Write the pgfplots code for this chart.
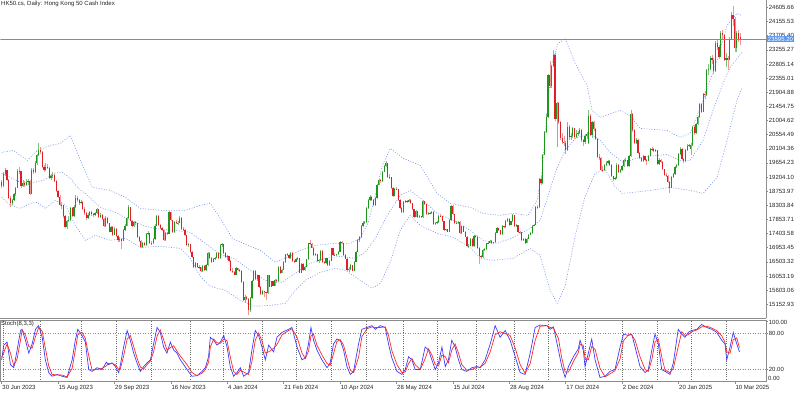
\documentclass[border=0pt]{standalone}
\usepackage{fontspec}
\setmainfont{Liberation Sans}
\usepackage{pgfplots}
\usepackage{pgfplotstable}
\pgfplotsset{compat=1.18}
\definecolor{upbody}{RGB}{30,150,30}
\definecolor{dnbody}{RGB}{225,30,40}
\definecolor{upwick}{RGB}{125,195,125}
\definecolor{dnwick}{RGB}{240,150,150}
\definecolor{bandc}{RGB}{120,150,235}
\definecolor{gridc}{RGB}{110,110,110}
\definecolor{framec}{RGB}{140,140,140}
\definecolor{stk}{RGB}{60,60,255}
\definecolor{std}{RGB}{255,40,40}
\definecolor{pline}{RGB}{150,120,200}
\definecolor{pbox}{RGB}{90,150,240}
\tikzset{mtfont/.style={font=\fontsize{6bp}{7bp}\selectfont}}

\pgfplotstableread{
i o h l c
0 19050 19120 18850 18916
1 18920 19350 18900 19306
2 19306 19480 19250 19415
3 19415 19440 19080 19110
4 19110 19140 18500 18534
5 18534 18600 18250 18366
6 18366 18520 18320 18479
7 18479 18700 18440 18659
8 18659 18900 18600 18860
9 18860 19450 18850 19413
10 19413 19520 19300 19390
11 19390 19400 18850 18908
12 18908 19100 18880 19015
13 19015 19080 18900 18952
14 18952 19150 18920 19051
15 19051 19130 18950 19075
16 19075 19100 18620 18668
17 18668 19480 18650 19434
18 19434 19500 19300 19365
19 19365 19700 19330 19639
20 19639 19950 19600 19917
21 19917 20300 19880 20079
22 20079 20150 19950 20011
23 20011 20020 19480 19517
24 19517 19580 19350 19421
25 19421 19650 19400 19539
26 19539 19620 19450 19500
27 19500 19520 19150 19184
28 19184 19300 19120 19246
29 19246 19350 19180 19270
30 19270 19290 19050 19075
31 19075 19100 18730 18773
32 18773 18800 18530 18581
33 18581 18620 18290 18330
34 18330 18420 18200 18300
35 18300 18330 17900 17950
36 17950 18000 17580 17620
37 17620 17850 17560 17790
38 17790 17950 17760 17850
39 17850 18260 17820 18210
40 18210 18250 17920 17960
41 17960 18300 17930 18250
42 18250 18620 18230 18550
43 18550 18600 18420 18480
44 18480 18520 18330 18380
45 18380 18480 18350 18420
46 18420 18440 18150 18200
47 18200 18260 18000 18050
48 18050 18080 17850 17900
49 17900 18050 17870 18000
50 18000 18130 17960 18090
51 18090 18110 17980 18020
52 18020 18060 17930 17990
53 17990 18100 17960 18050
54 18050 18220 18020 18180
55 18180 18200 17900 17930
56 17930 18050 17910 17990
57 17990 18020 17850 17880
58 17880 17900 17620 17650
59 17650 17950 17630 17900
60 17900 17920 17700 17730
61 17730 17750 17440 17470
62 17470 17660 17440 17610
63 17610 17640 17340 17370
64 17370 17600 17350 17550
65 17550 17570 17300 17330
66 17330 17360 17150 17200
67 17200 17280 17150 17240
68 17240 17260 16900 17180
69 17180 17550 17160 17520
70 17520 17700 17480 17660
71 17660 17920 17640 17890
72 17890 18300 17870 18240
73 18240 18260 17790 17810
74 17810 17850 17600 17640
75 17640 17800 17620 17770
76 17770 17800 17680 17730
77 17730 17750 17270 17300
78 17300 17330 17130 17170
79 17170 17200 16950 16990
80 16990 17130 16960 17090
81 17090 17150 17000 17040
82 17040 17420 17020 17400
83 17380 17480 17350 17410
84 17410 17430 17080 17110
85 17110 17180 17050 17100
86 17100 17260 17080 17230
87 17230 17700 17210 17660
88 17660 18000 17640 17970
89 17970 17990 17640 17670
90 17670 17700 17540 17570
91 17570 17600 17480 17510
92 17510 17530 17180 17200
93 17200 17460 17180 17430
94 17430 17470 17360 17400
95 17400 18120 17380 18080
96 18080 18100 17800 17830
97 17830 17850 17420 17450
98 17450 17800 17430 17780
99 17780 17830 17700 17730
100 17730 17790 17690 17750
101 17750 17950 17730 17910
102 17910 17930 17530 17560
103 17560 17600 17490 17520
104 17520 17540 17320 17350
105 17350 17370 17010 17040
106 17040 17100 16980 17060
107 17060 17080 16800 16830
108 16830 16850 16620 16650
109 16650 16670 16300 16330
110 16330 16490 16310 16460
111 16460 16480 16320 16350
112 16350 16400 16280 16330
113 16330 16350 16170 16200
114 16200 16400 16180 16370
115 16370 16390 16200 16230
116 16230 16430 16210 16400
117 16400 16820 16380 16790
118 16790 16810 16600 16630
119 16630 16660 16480 16510
120 16510 16640 16490 16610
121 16610 16660 16560 16640
122 16640 16820 16620 16790
123 16790 16810 16600 16620
124 16620 17070 16600 17040
125 17040 17110 16980 17060
126 17060 17080 16760 16790
127 16790 16810 16620 16650
128 16650 16720 16570 16680
129 16680 16700 16510 16540
130 16540 16560 16200 16220
131 16220 16300 16160 16190
132 16190 16220 16070 16100
133 16100 16330 16080 16300
134 16300 16320 16210 16240
135 16240 16280 16190 16220
136 16220 16240 15840 15870
137 15870 15890 15250 15280
138 15280 15450 15200 15390
139 15390 15420 15280 15310
140 15310 15340 14800 14960
141 14960 15390 14920 15350
142 15350 15930 15330 15900
143 15900 16260 15880 16210
144 16210 16230 15920 15950
145 15950 16100 15900 16080
146 16080 16100 15680 15700
147 15700 15720 15460 15490
148 15490 15600 15440 15570
149 15570 15590 15400 15530
150 15530 15560 15280 15510
151 15510 16100 15490 16080
152 16080 16100 15690 15710
153 15710 15910 15690 15880
154 15880 15900 15720 15750
155 15750 15970 15730 15940
156 15940 15960 15850 15880
157 15880 16360 15860 16340
158 16340 16360 16130 16160
159 16160 16280 16140 16250
160 16250 16530 16230 16500
161 16500 16770 16480 16740
162 16740 16800 16700 16730
163 16730 16750 16600 16630
164 16630 16820 16610 16790
165 16790 16810 16510 16540
166 16540 16560 16460 16510
167 16510 16620 16490 16590
168 16590 16650 16560 16620
169 16620 16640 16140 16160
170 16160 16460 16140 16440
171 16440 16460 16200 16230
172 16230 16380 16210 16350
173 16350 16610 16330 16590
174 16590 17120 16570 17090
175 17110 17200 17050 17080
176 17080 17100 16940 16960
177 16960 16980 16700 16720
178 16720 16780 16690 16740
179 16740 16760 16510 16530
180 16530 16580 16480 16550
181 16550 16890 16530 16860
182 16860 16880 16480 16500
183 16500 16520 16440 16470
184 16470 16640 16450 16620
185 16620 16640 16370 16390
186 16390 16560 16370 16540
187 16540 16960 16520 16930
188 16930 16950 16700 16730
189 16730 16780 16690 16710
190 16710 16760 16680 16740
191 16740 16850 16720 16830
192 16830 17170 16810 17140
193 17140 17180 17060 17100
194 17100 17120 16700 16720
195 16720 16750 16580 16600
196 16600 16620 16210 16250
197 16250 16330 16180 16280
198 16280 16420 16260 16390
199 16390 16410 16200 16220
200 16220 16540 16200 16510
201 16510 16850 16490 16830
202 16830 17230 16810 17200
203 17200 17320 17150 17280
204 17280 17680 17260 17650
205 17650 17790 17620 17750
206 17740 17820 17700 17760
207 17760 18240 17740 18210
208 18210 18500 18190 18480
209 18480 18620 18450 18580
210 18580 18600 18450 18480
211 18480 18500 18280 18310
212 18310 18560 18290 18540
213 18540 18990 18520 18960
214 18960 19150 18940 19120
215 19120 19140 19000 19070
216 19070 19400 19050 19380
217 19380 19580 19360 19550
218 19550 19720 19530 19640
219 19640 19660 19190 19220
220 19220 19300 19150 19200
221 19200 19220 18840 18870
222 18870 18900 18580 18610
223 18610 18860 18590 18830
224 18840 18900 18790 18820
225 18820 18840 18450 18480
226 18480 18500 18200 18230
227 18230 18260 18050 18080
228 18080 18430 18060 18400
229 18400 18470 18380 18440
230 18440 18480 18380 18420
231 18420 18510 18400 18480
232 18480 18500 18340 18370
233 18370 18390 18150 18180
234 18180 18200 17910 17940
235 17940 18140 17920 18110
236 18110 18130 17910 17940
237 17940 17990 17900 17960
238 17960 17980 17890 17920
239 17920 18460 17900 18430
240 18430 18450 18310 18340
241 18340 18360 18000 18030
242 18030 18080 17990 18050
243 18050 18100 18020 18070
244 18070 18120 18040 18090
245 18090 18110 17690 17720
246 17720 17780 17680 17740
247 17740 17800 17700 17770
248 17770 18010 17750 17980
249 17980 18020 17940 17960
250 17960 17980 17770 17800
251 17800 17820 17500 17520
252 17520 17560 17480 17540
253 17540 17560 17440 17470
254 17470 17860 17450 17830
255 17830 18320 17810 18290
256 18290 18310 17990 18020
257 18020 18040 17700 17730
258 17730 17790 17700 17750
259 17750 17820 17720 17780
260 17780 17800 17390 17420
261 17420 17660 17400 17640
262 17640 17660 17440 17470
263 17470 17490 17280 17310
264 17310 17330 16980 17000
265 17000 17060 16960 17020
266 17020 17270 17000 17240
267 17240 17260 16980 17000
268 17000 17370 16980 17340
269 17340 17360 17270 17300
270 17300 17320 16920 16950
271 16950 16970 16450 16700
272 16700 16720 16600 16650
273 16650 16900 16630 16880
274 16880 16950 16850 16900
275 16900 17120 16880 17090
276 17090 17140 17070 17110
277 17110 17200 17090 17170
278 17170 17190 17080 17110
279 17110 17150 17060 17130
280 17130 17460 17110 17430
281 17430 17600 17410 17570
282 17570 17590 17480 17510
283 17510 17530 17360 17390
284 17390 17670 17370 17640
285 17640 17660 17580 17610
286 17610 17830 17590 17800
287 17800 17900 17780 17870
288 17870 17890 17660 17690
289 17690 17810 17670 17790
290 17790 18020 17770 17990
291 17990 18000 17620 17650
292 17650 17700 17600 17670
293 17670 17690 17430 17460
294 17460 17480 17400 17440
295 17440 17460 17170 17200
296 17200 17260 17180 17230
297 17230 17250 17080 17110
298 17110 17270 17090 17240
299 17240 17390 17220 17370
300 17370 17450 17350 17420
301 17420 17690 17400 17660
302 17660 17720 17640 17690
303 17690 18290 17670 18260
304 18260 18300 18200 18250
305 18250 19160 18230 19130
306 19130 19250 18950 19000
307 19000 19950 18980 19920
308 19920 20660 19900 20630
309 20630 21200 20600 21130
310 21130 22500 21100 22440
311 22440 22900 22050 22110
312 22110 22780 22050 22740
313 22740 23240 22700 23100
314 23100 23150 21000 21050
315 21050 21600 20150 21550
316 21550 21600 20900 20950
317 20950 21000 20400 20450
318 20450 20600 20250 20320
319 20320 20500 20200 20290
320 20290 20350 19950 20080
321 20080 20950 20050 20800
322 20800 20850 20400 20480
323 20480 20600 20380 20500
324 20500 20800 20450 20760
325 20760 20780 20420 20490
326 20490 20700 20450 20590
327 20590 20680 20500 20620
328 20620 20780 20590 20700
329 20700 20720 20320 20380
330 20380 20420 20200 20320
331 20320 20560 20250 20510
332 20510 20640 20420 20570
333 20300 21350 20250 21150
334 21150 21200 20500 20540
335 20540 21000 20450 20950
336 20950 21000 20680 20730
337 20730 20760 20380 20430
338 20430 20450 19800 19850
339 19850 19950 19760 19820
340 19820 19850 19400 19440
341 19440 19560 19350 19430
342 19430 19620 19400 19580
343 19580 19700 19550 19660
344 19660 19760 19620 19710
345 19710 19740 19560 19600
346 19600 19620 19200 19230
347 19230 19250 19080 19150
348 19150 19200 19100 19170
349 19170 19650 19150 19600
350 19600 19620 19340 19370
351 19370 19460 19340 19420
352 19420 19580 19400 19550
353 19550 19780 19530 19750
354 19760 19800 19700 19740
355 19740 19760 19520 19560
356 19560 19900 19540 19870
357 19870 21350 19850 21200
358 21200 21250 20650 20700
359 20700 20720 20250 20300
360 20300 20450 20250 20400
361 20400 20420 19940 19970
362 19970 20000 19770 19800
363 19800 19830 19670 19700
364 19700 19900 19680 19870
365 19870 19890 19720 19750
366 19750 19780 19600 19720
367 19720 19910 19700 19880
368 19880 20130 19860 20100
369 20110 20150 20050 20090
370 20090 20120 19990 20040
371 20040 20100 20010 20060
372 20060 20080 19590 19620
373 19620 19800 19600 19760
374 19760 19780 19650 19690
375 19690 19710 19420 19450
376 19450 19470 19250 19280
377 19280 19320 19200 19240
378 19240 19260 19030 19060
379 19060 19080 18700 18870
380 18870 19250 18850 19220
381 19220 19320 19190 19290
382 19290 19550 19270 19520
383 19520 19620 19500 19580
384 19580 19960 19560 19930
385 19930 20150 19900 20110
386 20110 20130 19750 19780
387 19780 19800 19650 19700
388 19700 20100 19680 20070
389 20070 20250 20050 20200
390 20200 20260 20150 20230
391 20100 20280 19900 20220
392 20220 20820 20200 20790
393 20790 20850 20550 20600
394 20600 20920 20580 20890
395 20890 21160 20870 21130
396 21130 21550 21100 21520
397 21520 21560 21250 21290
398 21290 21890 21270 21860
399 21860 21950 21700 21810
400 21810 22650 21790 22620
401 22620 22800 22450 22640
402 22640 23050 22600 22980
403 22980 23100 22800 22940
404 22940 22980 22500 22580
405 22580 23550 22550 23480
406 23480 23600 23250 23340
407 23340 23400 22950 23040
408 23040 23850 23020 23790
409 23790 23900 23600 23720
410 23720 23750 22900 22940
411 22940 23150 22700 23010
412 23010 23050 22600 22940
413 22940 23650 22920 23600
414 23600 24450 23580 24370
415 24370 24650 24000 24230
416 24230 24300 23200 23300
417 23300 23850 23200 23780
418 23780 23900 23500 23600
419 23650 23800 23400 23595
}\candles

\pgfplotstableread{
b u
0 19990
6.7 20053
14.6 19735
20.3 20053
27.7 20213
33.3 20276
39 20531
44.7 19735
51.5 18876
61.7 18780
70.2 18558
78.7 18207
90 18144
104.2 18144
112.7 18303
118.4 18367
124 17889
130.9 17253
138.3 17062
146.8 16871
155.3 16489
161 16616
169.4 16871
178 17030
189.3 17093
197.8 17093
203.5 17253
208 17762
212 18621
216 19576
220.5 20117
227.8 19799
237.5 19576
247.1 18685
254.5 18367
265.8 18239
273.2 18048
282.8 17985
290.2 18048
298.7 17985
303.8 18462
306.7 19417
309.5 21327
312.3 22855
315.7 23459
319.7 23619
325.4 22823
332.2 22122
335 21327
339.6 21104
350.9 21327
356.6 21168
362.2 20754
377.5 20690
384.9 20467
390.6 20595
398 21645
405.9 22918
411.6 24032
417.2 24414
420 24351
}\upperband

\pgfplotstableread{
b m
0 19321
10.7 19035
18 19035
23.7 19099
29.4 19321
34.5 19353
39 19162
43.5 18844
48.7 18621
56 18239
64.5 18080
73 17825
81.5 17635
90 17539
98.5 17507
107 17443
115.6 17093
124 16743
132.6 16584
141.1 16234
149.6 15916
158.1 15820
166.6 16139
175.1 16457
183.6 16616
192.1 16680
200.6 16616
206.3 16807
212 17253
218.8 17985
226.1 18621
231.8 18780
239.2 18462
247.1 18048
256.2 17825
265.8 17507
273.2 17189
281.1 17093
290.2 17284
299.9 17571
305.5 17825
310.1 18621
314.6 19417
319.7 20053
325.4 20435
333.9 20595
339.6 20372
345.2 19990
352.6 19672
362.2 19831
371.9 19894
377.5 19926
384.9 19735
390.6 19735
398 20372
403.6 21327
409.3 22186
413.3 22695
420 23173
}\midband

\pgfplotstableread{
b d
0 18558
5 18303
10.7 18207
16.3 18367
20.3 18398
24.8 18207
30.5 18462
36.2 18303
41.8 17666
47.5 17189
53.2 17348
61.7 17189
70.2 17253
78.7 16966
90 16998
101.4 16934
107 16616
112.7 16043
118.4 15725
126.9 15597
135.4 15279
143.9 15088
152.4 15120
161 15184
166.6 15597
172.3 15916
180.8 16170
189.3 16298
195 16234
203.5 15916
210.3 15661
214.8 15820
220.5 16489
226.1 17507
231.8 17985
237.5 17666
247.1 17412
256.2 17284
265.8 16966
271.5 16616
278.9 16552
290.2 16616
299.9 16934
305.5 16711
311.2 15597
315.2 15184
319.7 15730
325.4 17320
331 18590
336.7 19320
342.4 19450
348 18900
352 18685
358.3 18717
367.9 18780
379.2 18876
390.6 18780
398 18685
405.9 19194
411.6 20372
417.2 21645
420 22027
}\lowerband

\pgfplotstableread{
b k d
0 36 40
1.2 60 48
3.1 65 62
5 28 47
6.9 23 26
8.8 52 38
10.7 84 68
11.6 86 85
13.5 68 77
15.4 47 58
17.3 62 55
19.2 86 74
21 92 89
23 73 83
24.8 36 55
26.7 15 26
28.6 9 12
31.5 12 11
34.3 9 11
37.1 7 8
40 36 22
41.8 68 52
43.2 86 77
45.6 76 81
47.5 65 71
49.4 20 43
51.3 17 19
54.1 23 20
57 20 22
59.4 32 26
60.7 28 30
62.6 31 30
64.5 25 28
66.4 15 20
67.4 28 22
69.2 57 42
71.2 84 70
73 68 76
74.9 47 58
76.8 31 39
78.7 17 24
80.6 25 21
82.5 31 28
84.4 36 34
86.2 62 49
88.2 89 75
90 81 85
91.9 57 69
93.8 47 52
95.7 65 56
97.6 52 59
99.5 47 50
101.4 36 42
105.2 20 28
108 9 15
110.9 10 10
113.7 17 14
115.6 23 20
117.4 41 32
118.4 73 57
120.3 68 70
122.2 60 64
124.1 65 63
126 76 70
127.9 57 67
129.7 25 41
131.6 9 17
133.5 15 12
135.4 23 19
137.3 9 16
140.1 15 12
142 52 33
143.9 84 68
145.8 76 80
147.7 57 67
149.6 36 47
151.5 60 49
154.3 49 55
156.2 73 61
159.1 81 77
162.8 86 84
164.7 89 87
167.6 57 73
170.4 36 47
172.3 39 38
174.1 62 50
175.5 89 75
177 68 78
178.9 52 60
181.7 36 44
184.6 23 30
186.4 31 27
188.3 62 46
190.2 70 66
192.1 68 69
194 52 60
195.9 25 39
197.8 12 19
199.7 17 15
202.5 62 40
204.4 86 74
207.3 89 87
210.1 92 90
212 86 89
214.8 92 89
217.6 89 90
219.5 62 76
221.4 39 51
224.3 17 28
227.1 12 15
229 20 16
230.9 41 30
232.8 36 38
234.6 20 28
237.5 20 20
240.3 57 38
242.2 52 54
244.1 36 44
246 20 28
247.9 31 26
249.8 57 44
251.7 25 41
253.5 36 31
255.4 68 52
257.3 57 62
259.2 36 47
261.1 20 28
263.9 17 19
266.8 23 20
269.6 25 24
271.5 23 24
274.3 36 30
277.2 62 49
280 92 77
282.8 73 82
285.7 84 79
288.5 68 76
291.4 41 55
294.2 15 28
297 12 14
299.9 47 30
302.7 89 68
305.5 93 91
309.3 92 92
311.2 86 89
313.1 90 88
315.9 52 71
317.8 25 39
319.7 7 16
321.6 25 16
324.4 41 33
327.2 54 48
328.2 68 61
330 52 60
331 25 39
332.9 47 36
334.8 70 58
336.7 36 53
339.5 7 22
342.4 9 8
345.2 17 13
348 20 18
350.9 57 38
352.8 78 67
355.6 76 77
357.5 78 77
359.4 57 68
362.2 25 41
365.1 15 20
366.9 20 17
368.9 52 36
370.7 78 65
372.6 62 70
374.5 20 41
376.4 17 19
379.2 12 15
381.1 31 22
383.9 86 58
385.9 78 82
387.7 73 76
389.6 81 77
391.5 84 82
394.4 86 85
397.2 94 90
400.1 89 91
402.9 86 88
405.7 81 84
408.6 68 75
410.4 62 65
411.4 36 49
413.3 57 47
415.1 81 69
417.1 62 72
418.6 49 56
}\stoch

\begin{document}
\begin{tikzpicture}[x=1bp,y=1bp]

% ---------------- price panel ----------------
\begin{axis}[
  name=price,
  scale only axis, width=766bp, height=318bp,
  xmin=-0.68, xmax=433.7,
  ymin=14707.4, ymax=24828.4,
  scaled y ticks=false, scaled x ticks=false,
  axis x line*=bottom, axis y line*=right,
  axis line style={draw=framec, line width=0.9bp, -},
  xtick=\empty,
  minor xtick={1,22,45,65,85,107,126,148,167,187,207,228,247,269,291,310,331,352,372,391,411},
  xminorgrids=true,
  minor x grid style={draw=gridc, line width=0.5bp, dash pattern=on 1bp off 1.2bp},
  minor tick length=0pt,
  ytick={15152.93,15603.06,16053.19,16503.32,16953.45,17403.58,17853.71,18303.84,18753.97,19204.10,19654.23,20104.36,20554.49,21004.62,21454.75,21904.88,22355.01,22805.14,23255.27,23705.40,24155.53,24605.66},
  yticklabels={15152.93,15603.06,16053.19,16503.32,16953.45,17403.58,17853.71,18303.84,18753.97,19204.10,19654.23,20104.36,20554.49,21004.62,21454.75,21904.88,22355.01,22805.14,23255.27,23705.40,24155.53,24605.66},
  tick align=outside, major tick length=2bp,
  tick style={draw=framec, line width=0.5bp},
  yticklabel style={mtfont, anchor=west, inner sep=0.6bp, text=black!85},
  extra y ticks={23595.2},
  extra y tick labels={23595.20},
  extra y tick style={grid=none, yticklabel style={fill=pbox, text=white, inner xsep=1.2bp, inner ysep=1bp, xshift=-1.5bp}},
  clip=true,
  unbounded coords=discard,
]
% Bollinger bands
\addplot[bandc, line width=0.6bp, dash pattern=on 1bp off 1.6bp] table[x=b, y=u] {\upperband};
\addplot[bandc, line width=0.6bp, dash pattern=on 1bp off 1.6bp] table[x=b, y=m] {\midband};
\addplot[bandc, line width=0.6bp, dash pattern=on 1bp off 1.6bp] table[x=b, y=d] {\lowerband};
% wicks
\addplot[draw=none, mark=none, forget plot,
  error bars/.cd, y dir=plus, y explicit, error mark=none,
  error bar style={line width=0.55bp, draw=upwick, solid}]
  table[x=i, y expr={\thisrow{c}>=\thisrow{o} ? \thisrow{l} : nan},
        y error plus expr={\thisrow{h}-\thisrow{l}}] {\candles};
\addplot[draw=none, mark=none, forget plot,
  error bars/.cd, y dir=plus, y explicit, error mark=none,
  error bar style={line width=0.55bp, draw=dnwick, solid}]
  table[x=i, y expr={\thisrow{c}<\thisrow{o} ? \thisrow{l} : nan},
        y error plus expr={\thisrow{h}-\thisrow{l}}] {\candles};
% bodies
\addplot[draw=none, mark=none, forget plot,
  error bars/.cd, y dir=plus, y explicit, error mark=none,
  error bar style={line width=1.2bp, draw=upbody, solid}]
  table[x=i, y expr={\thisrow{c}>=\thisrow{o} ? \thisrow{o} : nan},
        y error plus expr={\thisrow{c}-\thisrow{o}}] {\candles};
\addplot[draw=none, mark=none, forget plot,
  error bars/.cd, y dir=plus, y explicit, error mark=none,
  error bar style={line width=1.2bp, draw=dnbody, solid}]
  table[x=i, y expr={\thisrow{c}<\thisrow{o} ? \thisrow{c} : nan},
        y error plus expr={\thisrow{o}-\thisrow{c}}] {\candles};
% current price line
\addplot[pline, line width=0.8bp] coordinates {(-1,23595.2) (434,23595.2)};
\node[anchor=north west, mtfont, inner sep=0.6bp, text=black!85] at (rel axis cs:0,1) {HK50.cs, Daily: Hong Kong 50 Cash Index};
\end{axis}

% ---------------- stochastic panel ----------------
\begin{axis}[
  at={(price.south west)}, anchor=north west, yshift=-2.5bp,
  scale only axis, width=766bp, height=61bp,
  xmin=-0.68, xmax=433.7,
  ymin=0, ymax=100,
  scaled y ticks=false, scaled x ticks=false,
  axis line style={draw=framec, line width=0.9bp},
  xtick={0,32,64,96,128,160,192,224,256,288,320,352,384,416},
  xticklabels={30 Jun 2023,15 Aug 2023,29 Sep 2023,16 Nov 2023,4 Jan 2024,21 Feb 2024,10 Apr 2024,28 May 2024,15 Jul 2024,28 Aug 2024,17 Oct 2024,2 Dec 2024,20 Jan 2025,10 Mar 2025},
  xticklabel style={mtfont, anchor=north west, inner sep=0.6bp, text=black!85, yshift=-0.5bp},
  xtick pos=bottom, ytick pos=right,
  minor xtick={1,22,45,65,85,107,126,148,167,187,207,228,247,269,291,310,331,352,372,391,411},
  xminorgrids=true,
  minor x grid style={draw=gridc, line width=0.5bp, dash pattern=on 1bp off 1.2bp},
  minor tick length=0pt,
  ytick={20,80}, yticklabels={20.00,80.00},
  ymajorgrids=true,
  major y grid style={draw=black!45, line width=0.5bp, dash pattern=on 1bp off 1.5bp},
  extra y ticks={100}, extra y tick labels={100.00},
  extra y tick style={grid=none, yticklabel style={anchor=north west, yshift=1bp}},
  tick align=outside, major tick length=2bp,
  tick style={draw=framec, line width=0.5bp},
  yticklabel pos=right,
  yticklabel style={mtfont, anchor=west, inner sep=0.6bp, text=black!85},
  clip mode=individual,
]
\addplot[stk, line width=0.7bp] table[x=b, y=k] {\stoch};
\addplot[std, line width=0.7bp] table[x=b, y=d] {\stoch};
\node[anchor=north west, mtfont, inner sep=0.6bp, text=black!85] at (rel axis cs:0,1) {Stoch(8,3,3)};
\node[anchor=south west, mtfont, inner sep=0.6bp, text=black!85, xshift=1.2bp, yshift=0.3bp] at (rel axis cs:1,0) {0.00};
\end{axis}
\path (price.north west) ++(0,0) coordinate (tl);
\path (tl) rectangle ++(800,-393);
\end{tikzpicture}
\end{document}
